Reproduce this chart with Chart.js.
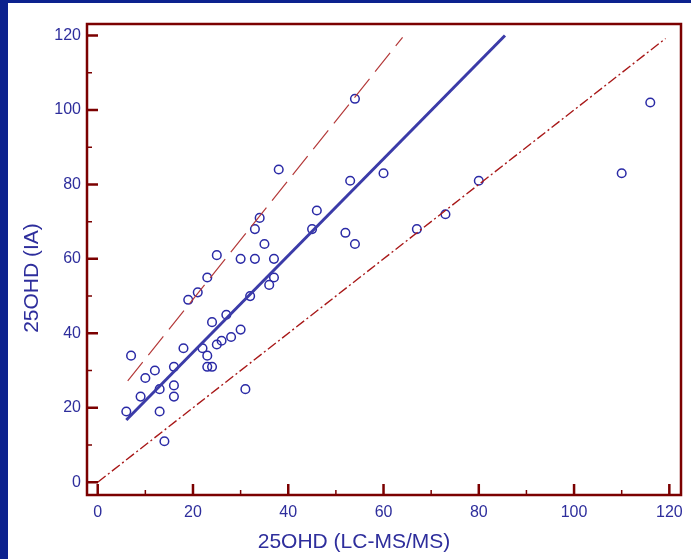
<!DOCTYPE html>
<html>
<head>
<meta charset="utf-8">
<script src="https://cdn.jsdelivr.net/npm/chart.js@4/dist/chart.umd.min.js"></script>
<style>
  html, body { margin: 0; padding: 0; }
  body { width: 691px; height: 559px; background: #0c228e; overflow: hidden; }
  #wrap { position: absolute; left: 8px; top: 3px; width: 683px; height: 556px; background: #fff; }
</style>
</head>
<body>
<div id="wrap"><canvas id="chart" width="683" height="556"></canvas></div>
<script>
// measured values, 25OHD by LC-MS/MS (x) vs immunoassay (y)
const lcms = [6, 7, 9, 10, 12, 13, 13, 14, 16, 16, 16, 18, 19, 21, 22, 23, 23, 24, 23, 24,
  25, 25, 26, 27, 28, 30, 31, 30, 32, 33, 33, 34, 35, 36, 37, 37, 38, 45, 46, 52,
  53, 54, 54, 60, 67, 73, 80, 110, 116];
const ia = [19, 34, 23, 28, 30, 25, 19, 11, 31, 26, 23, 36, 49, 51, 36, 34, 31, 31, 55, 43,
  61, 37, 38, 45, 39, 41, 25, 60, 50, 60, 68, 71, 64, 53, 55, 60, 84, 68, 73, 67,
  81, 64, 103, 83, 68, 72, 81, 83, 102];

// regression line and limits (end points)
const fitX = [6, 85.5];
const fitY = [16.7, 120];
const upperX = [6.3, 64];
const upperY = [27.2, 119.5];
const identityX = [0, 119.2];
const identityY = [0, 119.2];

const majorTicks = [0, 20, 40, 60, 80, 100, 120];
const minorTicks = [10, 30, 50, 70, 90, 110];

const xTitle = "25OHD (LC-MS/MS)";
const yTitle = "25OHD (IA)";

const frameColor = "#7b0000";
const textColor = "#2e2e9c";

const toPoints = (xs, ys) => xs.map((x, i) => ({ x: x, y: ys[i] }));

// frame, inward tick marks and axis titles
const framePlugin = {
  id: "frame",
  afterDraw(chart) {
    const ctx = chart.ctx;
    const a = chart.chartArea;
    const xs = chart.scales.x;
    const ys = chart.scales.y;
    ctx.save();
    ctx.strokeStyle = frameColor;
    ctx.lineCap = "butt";

    const tick = (vals, len, w) => {
      ctx.lineWidth = w;
      ctx.beginPath();
      vals.forEach((v) => {
        const px = xs.getPixelForValue(v);
        ctx.moveTo(px, a.bottom);
        ctx.lineTo(px, a.bottom - len);
        const py = ys.getPixelForValue(v);
        ctx.moveTo(a.left, py);
        ctx.lineTo(a.left + len, py);
      });
      ctx.stroke();
    };
    tick(majorTicks, 11, 2.5);
    tick(minorTicks, 5, 1.5);

    ctx.lineWidth = 2.5;
    ctx.strokeRect(a.left, a.top, a.right - a.left, a.bottom - a.top);

    ctx.fillStyle = textColor;
    ctx.font = "21px 'Liberation Sans', Arial, sans-serif";
    ctx.textAlign = "center";
    ctx.textBaseline = "middle";
    ctx.fillText(xTitle, a.left + 267, a.bottom + 47);
    ctx.translate(24, a.top + 254);
    ctx.rotate(-Math.PI / 2);
    ctx.fillText(yTitle, 0, 0);
    ctx.restore();
  },
};

const tickFont = { family: "'Liberation Sans', Arial, sans-serif", size: 16 };

new Chart(document.getElementById("chart"), {
  type: "scatter",
  data: {
    datasets: [
      {
        type: "line",
        data: toPoints(identityX, identityY),
        borderColor: "#a81818",
        borderWidth: 1.4,
        borderDash: [10, 3, 2, 3],
        pointRadius: 0,
      },
      {
        type: "line",
        data: toPoints(upperX, upperY),
        borderColor: "#b43a3a",
        borderWidth: 1.2,
        borderDash: [24, 9],
        pointRadius: 0,
      },
      {
        type: "line",
        data: toPoints(fitX, fitY),
        borderColor: "#3b3ba8",
        borderWidth: 3,
        pointRadius: 0,
      },
      {
        data: toPoints(lcms, ia),
        pointRadius: 4.3,
        pointBorderWidth: 1.5,
        pointBorderColor: "#2a2aa6",
        pointBackgroundColor: "rgba(0,0,0,0)",
      },
    ],
  },
  options: {
    responsive: false,
    animation: false,
    layout: { padding: { left: 0, top: 21, right: 10, bottom: 0 } },
    plugins: { legend: { display: false }, tooltip: { enabled: false } },
    scales: {
      x: {
        type: "linear",
        min: -2.25,
        max: 122.45,
        grid: { display: false, drawTicks: false },
        border: { display: false },
        afterBuildTicks: (s) => { s.ticks = majorTicks.map((v) => ({ value: v })); },
        afterFit: (s) => { s.height = 64; },
        ticks: { padding: 8, color: textColor, font: tickFont, maxRotation: 0, autoSkip: false },
      },
      y: {
        type: "linear",
        min: -3.44,
        max: 123.1,
        grid: { display: false, drawTicks: false },
        border: { display: false },
        afterBuildTicks: (s) => { s.ticks = majorTicks.map((v) => ({ value: v })); },
        afterFit: (s) => { s.width = 79; },
        ticks: { padding: 6, color: textColor, font: tickFont, autoSkip: false },
      },
    },
  },
  plugins: [framePlugin],
});
</script>
</body>
</html>
